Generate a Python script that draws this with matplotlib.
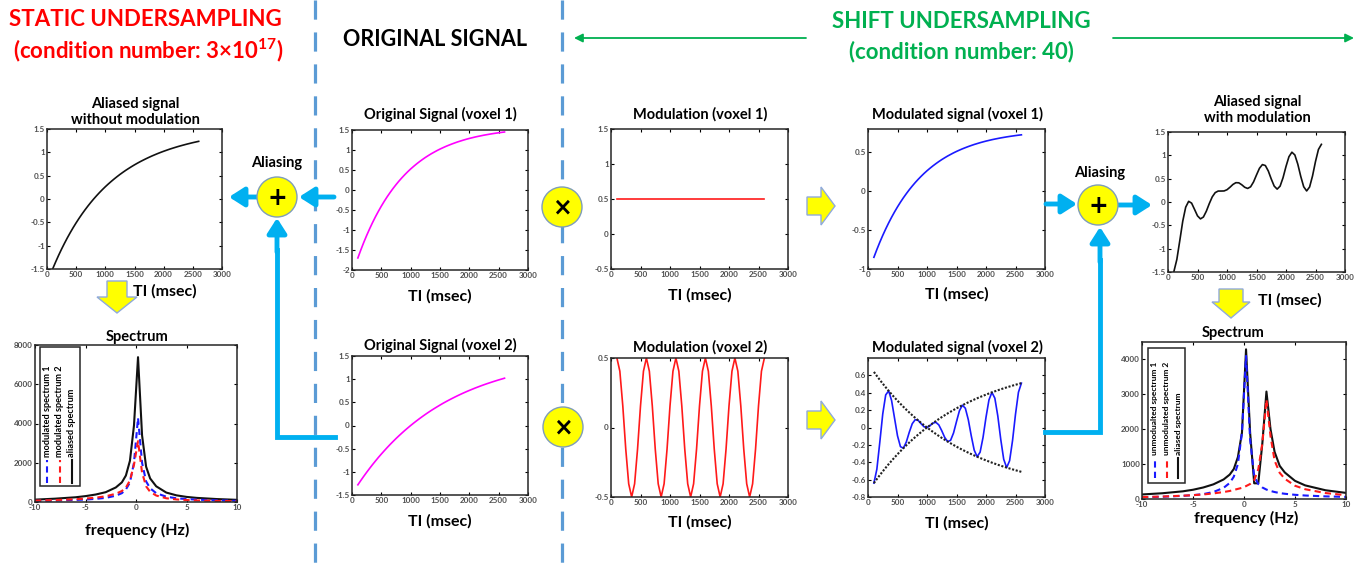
import numpy as np
import matplotlib
matplotlib.use('Agg')
import matplotlib.pyplot as plt
import matplotlib.ticker as mticker
from matplotlib.patches import Circle, Polygon, Rectangle

W, H = 1363, 570

plt.rcParams['font.family'] = ['Liberation Sans Narrow', 'Lato', 'DejaVu Sans']
plt.rcParams['font.weight'] = 'bold'
plt.rcParams['mathtext.default'] = 'regular'

# ---- data ----
# inversion time grid, msec
TI = np.arange(100, 2601, 50)

ORIGINAL_1 = [-1.699, -1.500, -1.312, -1.136, -0.971, -0.815, -0.669, -0.532, -0.403, -0.282, -0.168,
              -0.062, 0.039, 0.133, 0.222, 0.305, 0.383, 0.457, 0.526, 0.590, 0.651,
              0.708, 0.762, 0.813, 0.860, 0.905, 0.946, 0.986, 1.023, 1.057, 1.090,
              1.120, 1.149, 1.176, 1.202, 1.225, 1.248, 1.269, 1.289, 1.307, 1.325,
              1.341, 1.356, 1.371, 1.384, 1.397, 1.409, 1.420, 1.431, 1.441, 1.450]
ORIGINAL_2 = [-1.280, -1.187, -1.097, -1.010, -0.926, -0.844, -0.766, -0.689, -0.616, -0.545, -0.476,
              -0.409, -0.345, -0.282, -0.222, -0.164, -0.107, -0.053, 0.000, 0.051, 0.100,
              0.148, 0.194, 0.239, 0.282, 0.324, 0.364, 0.403, 0.441, 0.478, 0.513,
              0.547, 0.580, 0.612, 0.643, 0.673, 0.702, 0.730, 0.757, 0.783, 0.809,
              0.833, 0.857, 0.880, 0.902, 0.923, 0.944, 0.964, 0.984, 1.002, 1.021]
MODULATION_1 = [0.5] * 51
MODULATION_2 = [0.5, 0.405, 0.155, -0.155, -0.405, -0.5, -0.405, -0.155, 0.155, 0.405,
                0.5, 0.405, 0.155, -0.155, -0.405, -0.5, -0.405, -0.155, 0.155, 0.405,
                0.5, 0.405, 0.155, -0.155, -0.405, -0.5, -0.405, -0.155, 0.155, 0.405,
                0.5, 0.405, 0.155, -0.155, -0.405, -0.5, -0.405, -0.155, 0.155, 0.405,
                0.5, 0.405, 0.155, -0.155, -0.405, -0.5, -0.405, -0.155, 0.155, 0.405,
                0.5]

F_STATIC = [-10, -8, -6, -5, -4, -3, -2, -1.4, -1.0, -0.6, -0.2, 0.2, 0.6, 1.0, 1.4, 2, 3, 4, 5, 6, 8, 10]
SPEC_STATIC_1 = [55, 75, 105, 125, 160, 210, 320, 450, 640, 1000, 2000, 4280, 2000, 1050, 700, 450, 270, 190, 150, 120, 85, 60]
SPEC_STATIC_2 = [70, 100, 140, 175, 220, 290, 420, 560, 730, 1100, 1900, 3100, 1500, 800, 520, 330, 190, 130, 100, 80, 55, 45]
SPEC_STATIC_ALIASED = [120, 170, 240, 300, 380, 500, 740, 1000, 1350, 2100, 3900, 7380, 3400, 1800, 1200, 800, 480, 340, 260, 210, 150, 110]

F_SHIFT = [-10, -8, -6, -5, -4, -3, -2, -1.4, -1.0, -0.6, -0.2, 0.2, 0.6, 1.0, 1.4, 1.8, 2.2, 2.6, 3.0, 3.5, 4, 5, 6, 8, 10]
SPEC_SHIFT_1 = [50, 65, 90, 110, 140, 200, 320, 460, 640, 1000, 1900, 4100, 1700, 650, 430, 330, 270, 230, 200, 170, 150, 120, 100, 75, 60]
SPEC_SHIFT_2 = [55, 70, 95, 110, 130, 160, 200, 230, 260, 290, 320, 370, 430, 540, 850, 1600, 2850, 1800, 1100, 750, 580, 380, 280, 170, 110]
SPEC_SHIFT_ALIASED = [130, 165, 220, 265, 330, 420, 560, 700, 860, 1200, 1900, 4290, 1900, 450, 450, 1600, 3080, 2000, 1350, 950, 760, 520, 390, 250, 175]

v1 = np.array(ORIGINAL_1)
v2 = np.array(ORIGINAL_2)
modulated_1 = v1 * np.array(MODULATION_1)
modulated_2 = v2 * np.array(MODULATION_2)
aliased_static = (v1 + v2) / 2
aliased_shift = modulated_1 + modulated_2

MAGENTA = '#FF00FF'
RED = '#FF1A1A'
BLUE = '#1A1AFF'
CYAN = '#00B0F0'
YELLOW = '#FFFF00'
GREEN = '#00B050'
DIVIDER = '#5B9BD5'

fig = plt.figure(figsize=(W / 100, H / 100), dpi=100)


def px_axes(x0, y0, x1, y1):
    ax = fig.add_axes([x0 / W, 1 - y1 / H, (x1 - x0) / W, (y1 - y0) / H])
    ax.tick_params(direction='in', length=2.5, width=0.8, top=True, right=True,
                   labelsize=5.8, labelcolor='#4d4d4d', pad=1.5)
    for s in ax.spines.values():
        s.set_linewidth(1.1)
        s.set_color('#262626')
    ax.xaxis.set_major_formatter(mticker.FormatStrFormatter('%g'))
    ax.yaxis.set_major_formatter(mticker.FormatStrFormatter('%g'))
    return ax


def ti_axes(box, ylim, yticks):
    ax = px_axes(*box)
    ax.set_xlim(0, 3000)
    ax.set_xticks(range(0, 3001, 500))
    ax.set_ylim(*ylim)
    ax.set_yticks(yticks)
    return ax


# ---- signal panels ----
ax = ti_axes((47, 129, 222, 269), (-1.5, 1.5), [-1.5, -1, -0.5, 0, 0.5, 1, 1.5])
ax.plot(TI, aliased_static, color='#111111', lw=1.2)

ax = ti_axes((352, 130, 528, 270), (-2, 1.5), [-2, -1.5, -1, -0.5, 0, 0.5, 1, 1.5])
ax.plot(TI, v1, color=MAGENTA, lw=1.2)

ax = ti_axes((352, 356, 528, 495), (-1.5, 1.5), [-1.5, -1, -0.5, 0, 0.5, 1, 1.5])
ax.plot(TI, v2, color=MAGENTA, lw=1.2)

ax = ti_axes((611, 129, 788, 269), (-0.5, 1.5), [-0.5, 0, 0.5, 1, 1.5])
ax.plot(TI, MODULATION_1, color=RED, lw=1.2)

ax = ti_axes((611, 358, 788, 497), (-0.5, 0.5), [-0.5, 0, 0.5])
ax.plot(TI, MODULATION_2, color=RED, lw=1.2)

ax = ti_axes((868, 129, 1045, 269), (-1, 0.8), [-1, -0.5, 0, 0.5])
ax.plot(TI, modulated_1, color=BLUE, lw=1.2)

ax = ti_axes((868, 358, 1045, 497), (-0.8, 0.8), [-0.8, -0.6, -0.4, -0.2, 0, 0.2, 0.4, 0.6])
ax.plot(TI, modulated_2, color=BLUE, lw=1.2)
ax.plot(TI, 0.5 * v2, color='#222222', lw=1.5, ls=(0, (1, 0.8)))
ax.plot(TI, -0.5 * v2, color='#222222', lw=1.5, ls=(0, (1, 0.8)))

ax = ti_axes((1168, 132, 1345, 272), (-1.5, 1.5), [-1.5, -1, -0.5, 0, 0.5, 1, 1.5])
ax.plot(TI, aliased_shift, color='#111111', lw=1.2)

# ---- spectra ----
ax = px_axes(35, 345, 237, 502)
ax.set_xlim(-10, 10)
ax.set_xticks([-10, -5, 0, 5, 10])
ax.set_ylim(0, 8000)
ax.set_yticks(range(0, 8001, 2000))
ax.plot(F_STATIC, SPEC_STATIC_ALIASED, color='#111111', lw=1.5)
ax.plot(F_STATIC, SPEC_STATIC_1, color=BLUE, lw=1.5, ls=(0, (3, 2)))
ax.plot(F_STATIC, SPEC_STATIC_2, color=RED, lw=1.5, ls=(0, (3, 2)))

ax = px_axes(1142, 342, 1346, 499)
ax.set_xlim(-10, 10)
ax.set_xticks([-10, -5, 0, 5, 10])
ax.set_ylim(0, 4500)
ax.set_yticks(range(0, 4001, 1000))
ax.plot(F_SHIFT, SPEC_SHIFT_ALIASED, color='#111111', lw=1.5)
ax.plot(F_SHIFT, SPEC_SHIFT_1, color=BLUE, lw=1.5, ls=(0, (3, 2)))
ax.plot(F_SHIFT, SPEC_SHIFT_2, color=RED, lw=1.5, ls=(0, (3, 2)))

# ---- overlay in pixel coordinates ----
ov = fig.add_axes([0, 0, 1, 1], zorder=10)
ov.set_xlim(0, W)
ov.set_ylim(H, 0)
ov.axis('off')
ov.patch.set_alpha(0)

# dashed dividers
for x in (315, 562):
    ov.plot([x, x], [0, H], color=DIVIDER, lw=2.3, ls=(0, (6, 4)), solid_capstyle='butt')

# headers
ov.text(145, 20, 'STATIC UNDERSAMPLING', color='#FF0000', fontsize=16, ha='center', va='center')
ov.text(148, 50, '(condition number: 3×10$^{17}$)', color='#FF0000', fontsize=16, ha='center', va='center')
ov.text(435, 40, 'ORIGINAL SIGNAL', color='black', fontsize=15.5, ha='center', va='center')
ov.text(961, 22, 'SHIFT UNDERSAMPLING', color=GREEN, fontsize=16, ha='center', va='center')
ov.text(961, 52, '(condition number: 40)', color=GREEN, fontsize=16, ha='center', va='center')
green_arrow = dict(arrowstyle='-|>,head_length=0.5,head_width=0.25', color=GREEN, lw=1.3,
                   mutation_scale=10, shrinkA=0, shrinkB=0)
ov.annotate('', xy=(574, 38), xytext=(806, 38), arrowprops=green_arrow)
ov.annotate('', xy=(1354, 38), xytext=(1113, 38), arrowprops=green_arrow)

# panel titles and axis labels
TITLE = 10.5
LABEL = 11.5
titles = [
    (135, 112, 'Aliased signal\nwithout modulation'),
    (137, 337, 'Spectrum'),
    (440, 114, 'Original Signal (voxel 1)'),
    (440, 345, 'Original Signal (voxel 2)'),
    (700, 114, 'Modulation (voxel 1)'),
    (700, 347, 'Modulation (voxel 2)'),
    (957, 114, 'Modulated signal (voxel 1)'),
    (957, 347, 'Modulated signal (voxel 2)'),
    (1257, 110, 'Aliased signal\nwith modulation'),
    (1233, 333, 'Spectrum'),
]
for x, y, s in titles:
    ov.text(x, y, s, fontsize=TITLE, ha='center', va='center', linespacing=1.15)

labels = [
    (165, 291, 'TI (msec)'),
    (137, 530, 'frequency (Hz)'),
    (440, 296, 'TI (msec)'),
    (440, 521, 'TI (msec)'),
    (700, 295, 'TI (msec)'),
    (700, 522, 'TI (msec)'),
    (957, 294, 'TI (msec)'),
    (957, 523, 'TI (msec)'),
    (1290, 300, 'TI (msec)'),
    (1246, 518, 'frequency (Hz)'),
]
for x, y, s in labels:
    ov.text(x, y, s, fontsize=LABEL, ha='center', va='center')


# rotated legends
def vlegend(box, xs, y_line, texts, styles, size):
    x0, y0, x1, y1 = box
    ov.add_patch(Rectangle((x0, y0), x1 - x0, y1 - y0, facecolor='white',
                           edgecolor='#262626', lw=1.1, zorder=3))
    for x, t, (c, ls) in zip(xs, texts, styles):
        ov.plot([x, x], [y_line[0], y_line[1]], color=c, ls=ls, lw=1.5, zorder=4)
        ov.text(x, y_line[1] - 3, t, rotation=90, fontsize=size, ha='center', va='bottom', zorder=4)


leg_styles = [(BLUE, (0, (3, 2))), (RED, (0, (3, 2))), ('#111111', '-')]
vlegend((40, 347, 80, 486), [47, 59.5, 72], (483, 460),
        ['modulated spectrum 1', 'modulated spectrum 2', 'aliased spectrum'], leg_styles, 6.6)
vlegend((1148, 348, 1185, 483), [1155, 1167, 1178], (478, 458),
        ['unmodualted spectrum 1', 'unmodulated spectrum 2', 'aliased spectrum'], leg_styles, 6.0)

# cyan flow arrows
cyan_arrow = dict(arrowstyle='-|>,head_length=0.5,head_width=0.32', color=CYAN, lw=3.5,
                  mutation_scale=18, shrinkA=0, shrinkB=0)
ov.annotate('', xy=(299, 197), xytext=(334, 197), arrowprops=cyan_arrow)
ov.annotate('', xy=(229, 197), xytext=(257, 197), arrowprops=cyan_arrow)
ov.plot([335, 277, 277], [437, 437, 250], color=CYAN, lw=3.5, solid_joinstyle='miter')
ov.annotate('', xy=(277, 218), xytext=(277, 252), arrowprops=cyan_arrow)

ov.annotate('', xy=(1077, 204), xytext=(1046, 204), arrowprops=cyan_arrow)
ov.annotate('', xy=(1152, 205), xytext=(1119, 205), arrowprops=cyan_arrow)
ov.plot([1045, 1100, 1100], [432, 432, 260], color=CYAN, lw=3.5, solid_joinstyle='miter')
ov.annotate('', xy=(1100, 227), xytext=(1100, 262), arrowprops=cyan_arrow)

# yellow operator circles
for (x, y), sym in [((277, 197), '+'), ((562, 207), '×'), ((563, 427), '×'), ((1098, 205), '+')]:
    ov.add_patch(Circle((x, y), 20, facecolor=YELLOW, edgecolor='#7F9DB9', lw=1.0, zorder=5))
    ov.text(x, y + 1, sym, fontsize=17, ha='center', va='center', zorder=6,
            family=['DejaVu Sans'], fontweight='bold')
ov.text(277, 163, 'Aliasing', fontsize=10.5, ha='center', va='center')
ov.text(1100, 173, 'Aliasing', fontsize=10.5, ha='center', va='center')


# yellow block arrows
def block_right(xt, xh, xp, yc, hs, hh):
    pts = [(xt, yc - hs), (xh, yc - hs), (xh, yc - hh), (xp, yc), (xh, yc + hh), (xh, yc + hs), (xt, yc + hs)]
    ov.add_patch(Polygon(pts, closed=True, facecolor=YELLOW, edgecolor='#8FAADC', lw=1.0, zorder=5))


def block_down(xc, yt, yh, yp, hs, hh):
    pts = [(xc - hs, yt), (xc - hs, yh), (xc - hh, yh), (xc, yp), (xc + hh, yh), (xc + hs, yh), (xc + hs, yt)]
    ov.add_patch(Polygon(pts, closed=True, facecolor=YELLOW, edgecolor='#8FAADC', lw=1.0, zorder=5))


block_right(807, 821, 835, 206, 9, 19)
block_right(807, 821, 835, 420, 9, 19)
block_down(117, 281, 297, 313, 10, 20)
block_down(1231, 289, 302, 318, 12, 19)

fig.savefig('out.png', dpi=100)
